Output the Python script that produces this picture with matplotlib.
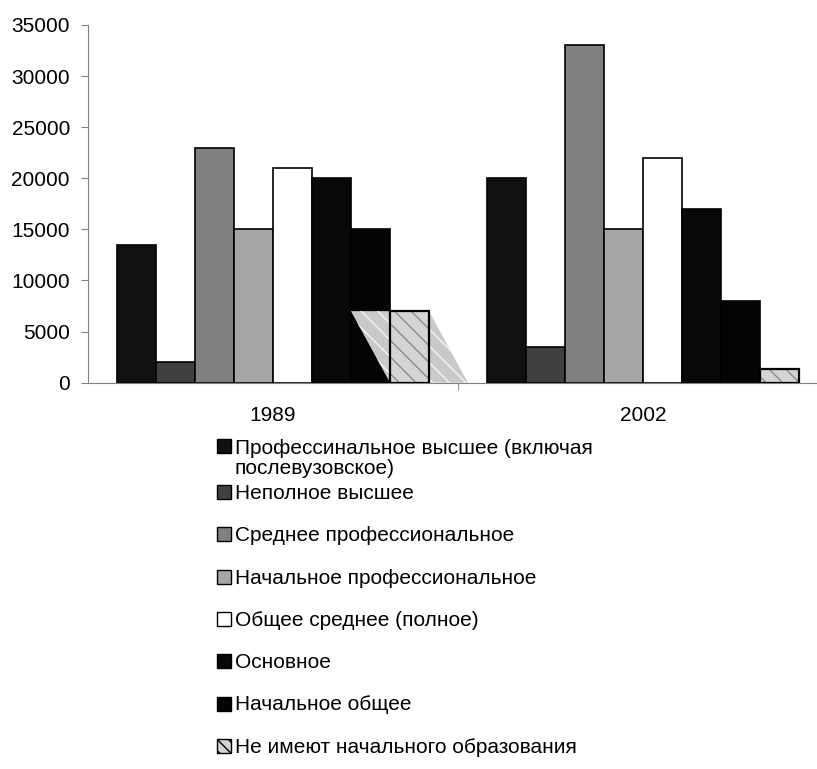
import matplotlib
matplotlib.use('Agg')
from matplotlib import pyplot as plt
from matplotlib.patches import Polygon, Rectangle
import numpy as np

plt.rcParams['font.family'] = ['Liberation Sans', 'DejaVu Sans']

years = ['1989', '2002']
labels = ['Профессинальное высшее (включая\nпослевузовское)',
          'Неполное высшее',
          'Среднее профессиональное',
          'Начальное профессиональное',
          'Общее среднее (полное)',
          'Основное',
          'Начальное общее',
          'Не имеют начального образования']
v1989 = [13500, 2000, 23000, 15000, 21000, 20000, 15000, 7000]
v2002 = [20000, 3500, 33000, 15000, 22000, 17000, 8000, 1300]
colors = ['#111111', '#404040', '#808080', '#a6a6a6', '#ffffff',
          '#080808', '#040404', '#d4d4d4']

W, H = 817, 769
fig = plt.figure(figsize=(W / 100, H / 100), dpi=100)
ax = fig.add_axes([88 / W, 1 - 382.7 / H, 740 / W, 357.8 / H])

n = len(labels)
span = 0.843
bw = span / n
x = np.arange(len(years))
data = np.array([v1989, v2002]).T
last = n - 1

for i in range(n):
    pos = x - span / 2 + i * bw
    if i == last:
        ax.bar(pos, data[i], bw, align='edge', color=colors[i],
               edgecolor='#8a8a8a', hatch='\\\\', lw=0, zorder=4)
        ax.bar(pos, data[i], bw, align='edge', fill=False,
               edgecolor='black', lw=1.6, zorder=5)
    else:
        ax.bar(pos, data[i], bw, align='edge', color=colors[i],
               edgecolor='black', lw=1.2, zorder=2)

# skewed shadow of the last series in the 1989 group
x0 = x[0] - span / 2 + last * bw
h = data[last][0]
ax.add_patch(Polygon([(x0 - bw, h), (x0 + bw, h), (x0 + 2 * bw, 0), (x0, 0)],
                     closed=True, facecolor='#c9c9c9', edgecolor='#f4f4f4',
                     hatch='\\\\', lw=0, zorder=3))

ax.set_xlim(-0.5, 1.5)
ax.set_ylim(0, 35000)
ax.set_yticks(range(0, 35001, 5000))
ax.set_xticks(x)
ax.set_xticklabels(years)
ax.set_xticks([0.5, 1.5], minor=True)
ax.tick_params(axis='x', which='major', length=0, pad=17, labelsize=15)
ax.tick_params(axis='x', which='minor', length=5, color='#808080')
ax.tick_params(axis='y', length=5, pad=8, labelsize=15, color='#808080')
for s in ['top', 'right']:
    ax.spines[s].set_visible(False)
ax.spines['left'].set_color('#808080')
ax.spines['bottom'].set_color('#808080')

# legend below the axes, fixed row spacing as in the original
for i, lab in enumerate(labels):
    base = 499 + 42.3 * (i - 1)
    ty = base
    if '\n' in lab:
        base -= 46 - 42.3
        ty = base + 21 * lab.count('\n')
    sq = Rectangle((216.5 / W, 1 - base / H), 14.5 / W, 14 / H,
                   transform=fig.transFigure, facecolor=colors[i],
                   edgecolor='black', lw=1.0,
                   hatch='\\\\\\' if i == last else None)
    fig.patches.append(sq)
    fig.text(235 / W, 1 - ty / H, lab, fontsize=15, va='baseline',
             ha='left', linespacing=1.05)

fig.savefig('out.png', dpi=100)
